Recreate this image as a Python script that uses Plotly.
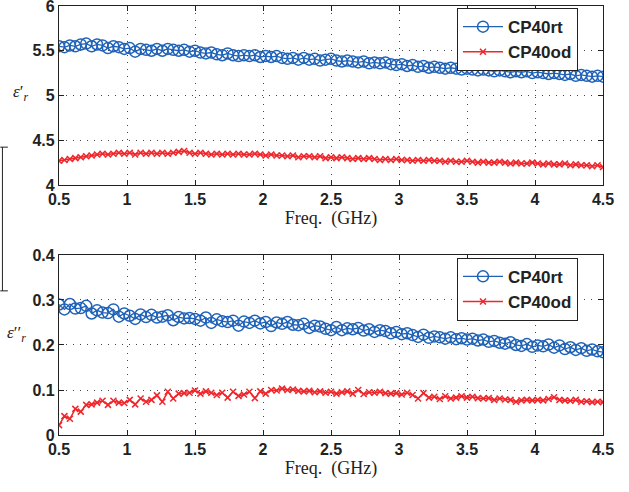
import numpy as np
import plotly.graph_objects as go
from plotly.subplots import make_subplots

# relative permittivity, real part
eps_real_rt = [
    5.55, 5.54, 5.56, 5.55, 5.57, 5.58, 5.55, 5.57, 5.56, 5.53,
    5.55, 5.54, 5.52, 5.53, 5.49, 5.52, 5.51, 5.50, 5.52, 5.50,
    5.52, 5.51, 5.50, 5.51, 5.49, 5.50, 5.48, 5.47, 5.48, 5.46,
    5.45, 5.47, 5.45, 5.44, 5.45, 5.44, 5.45, 5.43, 5.44, 5.43,
    5.44, 5.42, 5.41, 5.42, 5.40, 5.42, 5.40, 5.41, 5.39, 5.40,
    5.41, 5.39, 5.38, 5.39, 5.38, 5.37, 5.38, 5.36, 5.37, 5.36,
    5.37, 5.35, 5.34, 5.35, 5.33, 5.34, 5.32, 5.33, 5.31, 5.32,
    5.31, 5.30, 5.31, 5.30, 5.29, 5.30, 5.29, 5.28, 5.29, 5.28,
    5.27, 5.28, 5.27, 5.26, 5.27, 5.26, 5.27, 5.25, 5.26, 5.25,
    5.24, 5.25, 5.24, 5.23, 5.24, 5.22, 5.23, 5.22, 5.21, 5.22,
    5.21,
]
eps_real_od = [
    4.27, 4.28, 4.29, 4.30, 4.31, 4.32, 4.33, 4.34, 4.35, 4.34,
    4.35, 4.36, 4.35, 4.36, 4.34, 4.36, 4.35, 4.36, 4.35, 4.36,
    4.35, 4.36, 4.37, 4.38, 4.36, 4.35, 4.36, 4.35, 4.34, 4.35,
    4.34, 4.35, 4.34, 4.35, 4.34, 4.34, 4.35, 4.34, 4.33, 4.34,
    4.33, 4.33, 4.32, 4.33, 4.31, 4.32, 4.32, 4.31, 4.32, 4.30,
    4.31, 4.30, 4.31, 4.30, 4.29, 4.30, 4.29, 4.30, 4.29, 4.28,
    4.29, 4.28, 4.29, 4.28, 4.28, 4.27, 4.28, 4.27, 4.28, 4.27,
    4.27, 4.26, 4.27, 4.26, 4.26, 4.27, 4.26, 4.25, 4.26, 4.25,
    4.25, 4.26, 4.25, 4.24, 4.25, 4.24, 4.24, 4.25, 4.24, 4.23,
    4.24, 4.23, 4.23, 4.24, 4.22, 4.23, 4.22, 4.22, 4.21, 4.22,
    4.20,
]
# relative permittivity, imaginary part
eps_imag_rt = [
    0.290, 0.279, 0.291, 0.281, 0.282, 0.287, 0.270, 0.277, 0.272, 0.271,
    0.279, 0.263, 0.270, 0.265, 0.258, 0.268, 0.262, 0.267, 0.261, 0.263,
    0.266, 0.255, 0.262, 0.259, 0.260, 0.258, 0.254, 0.261, 0.249, 0.257,
    0.253, 0.251, 0.254, 0.243, 0.252, 0.249, 0.254, 0.248, 0.251, 0.242,
    0.250, 0.247, 0.251, 0.245, 0.244, 0.247, 0.238, 0.243, 0.241, 0.236,
    0.233, 0.240, 0.233, 0.237, 0.235, 0.238, 0.232, 0.235, 0.229, 0.233,
    0.231, 0.226, 0.229, 0.224, 0.226, 0.222, 0.218, 0.223, 0.216, 0.219,
    0.217, 0.214, 0.217, 0.213, 0.215, 0.212, 0.214, 0.210, 0.212, 0.207,
    0.209, 0.205, 0.203, 0.206, 0.200, 0.198, 0.202, 0.196, 0.199, 0.197,
    0.201, 0.194, 0.199, 0.191, 0.195, 0.189, 0.193, 0.187, 0.190, 0.186,
    0.184,
]
eps_imag_od = [
    0.022, 0.042, 0.036, 0.058, 0.052, 0.067, 0.068, 0.072, 0.076, 0.067,
    0.076, 0.072, 0.071, 0.078, 0.068, 0.081, 0.074, 0.078, 0.088, 0.074,
    0.096, 0.081, 0.092, 0.093, 0.094, 0.099, 0.092, 0.097, 0.094, 0.089,
    0.094, 0.083, 0.096, 0.087, 0.090, 0.096, 0.082, 0.097, 0.092, 0.100,
    0.099, 0.103, 0.100, 0.101, 0.098, 0.097, 0.098, 0.095, 0.097, 0.094,
    0.096, 0.092, 0.095, 0.097, 0.092, 0.100, 0.091, 0.095, 0.094, 0.096,
    0.093, 0.092, 0.093, 0.090, 0.094, 0.089, 0.081, 0.093, 0.083, 0.085,
    0.080, 0.086, 0.081, 0.083, 0.086, 0.083, 0.085, 0.082, 0.081, 0.082,
    0.078, 0.081, 0.079, 0.078, 0.074, 0.077, 0.078, 0.077, 0.078, 0.077,
    0.080, 0.084, 0.078, 0.077, 0.076, 0.078, 0.074, 0.075, 0.073, 0.074,
    0.073,
]
freq = np.linspace(0.5, 4.5, len(eps_real_rt))  # sweep 0.5-4.5 GHz

x_ticks = [0.5, 1, 1.5, 2, 2.5, 3, 3.5, 4, 4.5]
x_ticklabels = ["0.5", "1", "1.5", "2", "2.5", "3", "3.5", "4", "4.5"]
y1_ticks = [4, 4.5, 5, 5.5, 6]
y1_ticklabels = ["4", "4.5", "5", "5.5", "6"]
y2_ticks = [0, 0.1, 0.2, 0.3, 0.4]
y2_ticklabels = ["0", "0.1", "0.2", "0.3", "0.4"]

BLUE = "#1f62b8"
RED = "#f0262b"
tick_font = dict(family="Liberation Sans", size=16, color="#222", weight="bold")
serif = "Liberation Serif"

fig = make_subplots(rows=2, cols=1)


def add_pair(rt, od, row, legend):
    fig.add_trace(go.Scatter(
        x=freq, y=rt, name="CP40rt", mode="lines+markers", legend=legend,
        line=dict(color=BLUE, width=1.3),
        marker=dict(symbol="circle-open", size=11, color=BLUE, line=dict(width=1.5)),
    ), row=row, col=1)
    fig.add_trace(go.Scatter(
        x=freq, y=od, name="CP40od", mode="lines+markers", legend=legend,
        line=dict(color=RED, width=1.5),
        marker=dict(symbol="x-thin-open", size=6, color=RED, line=dict(width=1.5, color=RED)),
    ), row=row, col=1)


add_pair(eps_real_rt, eps_real_od, 1, "legend")
add_pair(eps_imag_rt, eps_imag_od, 2, "legend2")

axis_common = dict(
    showline=True, linecolor="#222", linewidth=1.2, mirror="ticks",
    ticks="inside", ticklen=5, tickcolor="#222",
    showgrid=True, gridcolor="#444", griddash="1px,6px", gridwidth=1,
    tickfont=tick_font, zeroline=False, automargin=False,
    ticklabeloverflow="allow",
)
for r in (1, 2):
    fig.update_xaxes(range=[0.5, 4.5], tickvals=x_ticks, ticktext=x_ticklabels,
                     title=dict(text="Freq.  (GHz)", font=dict(family=serif, size=18, color="#222"),
                                standoff=2),
                     row=r, col=1, **axis_common)
fig.update_xaxes(domain=[0, 1])
fig.update_yaxes(range=[4, 6], tickvals=y1_ticks, ticktext=y1_ticklabels,
                 domain=[0.5828, 1], row=1, col=1, **axis_common)
fig.update_yaxes(range=[0, 0.4], tickvals=y2_ticks, ticktext=y2_ticklabels,
                 domain=[0, 0.4196], row=2, col=1, **axis_common)

legend_style = dict(
    bgcolor="white", bordercolor="#222", borderwidth=1,
    font=dict(family="Liberation Sans", size=17, color="#222", weight="bold"),
    xanchor="right", yanchor="top", itemwidth=40, tracegroupgap=0,
)
fig.update_layout(
    width=629, height=492,
    margin=dict(l=59, r=26, t=6, b=57),
    plot_bgcolor="white", paper_bgcolor="white",
    legend=dict(x=0.954, y=0.995, **legend_style),
    legend2=dict(x=0.954, y=0.413, **legend_style),
)

# y labels, set horizontally as in the original
fig.add_annotation(text="<i>ε</i>′<sub><i>r</i></sub>", xref="paper", yref="paper",
                   x=-0.088, y=0.828, showarrow=False,
                   font=dict(family=serif, size=17, color="#222"))
fig.add_annotation(text="<i>ε</i>′′<sub><i>r</i></sub>", xref="paper", yref="paper",
                   x=-0.099, y=0.205, showarrow=False,
                   font=dict(family=serif, size=17, color="#222"))

# stray bracket at the left edge of the original image
for x0, y0, x1, y1 in [(-0.104, 0.671, -0.104, 0.336), (-0.108, 0.671, -0.094, 0.671),
                       (-0.108, 0.336, -0.094, 0.336)]:
    fig.add_shape(type="line", xref="paper", yref="paper", x0=x0, y0=y0, x1=x1, y1=y1,
                  line=dict(color="#222", width=1))

# the page's default body margin would shift the figure by 8px
fig.write_html("out.html", config={"displayModeBar": False},
               post_script="document.body.style.margin='0';")
